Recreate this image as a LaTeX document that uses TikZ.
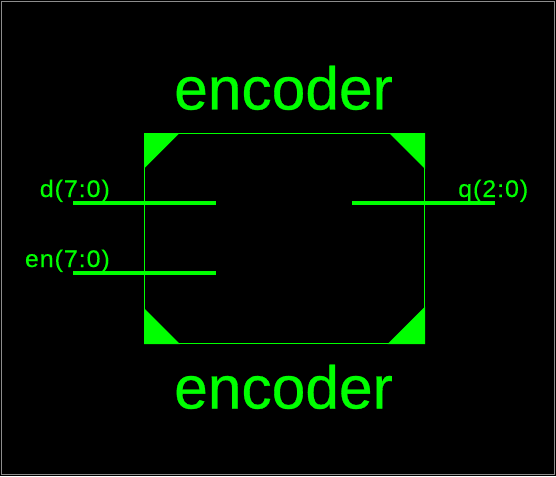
\documentclass[tikz,border=0pt]{standalone}
\usepackage{fontspec}
\setmainfont{Liberation Sans}
\newfontfamily\bigfont[FakeBold=0.5]{Liberation Sans}
\newfontfamily\pinfont[FakeStretch=1.04,LetterSpace=4,FakeBold=0.3]{Liberation Sans}
\definecolor{sym}{RGB}{0,255,0}
\definecolor{frm}{RGB}{140,140,140}
\tikzset{
  big/.style={text=sym,inner sep=0pt,font=\bigfont\fontsize{60.5}{60}\selectfont},
  pinlabel/.style={text=sym,inner sep=0pt,font=\pinfont\fontsize{24}{26}\selectfont},
  bus/.style={draw=sym,line width=4pt},
  corner/.style={fill=sym,draw=none},
  edge/.style={draw=sym,line width=1pt}
}
\begin{document}
\begin{tikzpicture}[x=1pt,y=-1pt]
\useasboundingbox (0,0) rectangle (556,476);
\fill[black] (0,0) rectangle (556,476);
\draw[frm,line width=1.3pt] (1.5,1.5) rectangle (554.5,474.5);
\coordinate (tl) at (144.5,133.5);
\coordinate (tr) at (424.5,133.5);
\coordinate (br) at (424.5,343);
\coordinate (bl) at (144.5,343);
\draw[edge] (tl) -- (tr) -- (br) -- (bl) -- cycle;
\fill[corner] (144,133) -- (179.5,133) -- (144,168.5) -- cycle;
\fill[corner] (425,133) -- (389,133) -- (425,169) -- cycle;
\fill[corner] (144,344) -- (180,344) -- (144,308) -- cycle;
\fill[corner] (425,344) -- (387.5,344) -- (425,306.5) -- cycle;
\node[big,anchor=base] (t1) at (283.5,109.5) {encoder};
\node[big,anchor=base] (t2) at (283.5,408.5) {encoder};
\coordinate (d0) at (73,203); \coordinate (d1) at (216,203);
\coordinate (e0) at (73,273); \coordinate (e1) at (216,273);
\coordinate (q0) at (352,203); \coordinate (q1) at (495,203);
\draw[bus] (d0) -- (d1);
\draw[bus] (e0) -- (e1);
\draw[bus] (q0) -- (q1);
\node[pinlabel,anchor=base east] (dl) at (110,197) {d(7:0)};
\node[pinlabel,anchor=base east] (el) at (110,267) {en(7:0)};
\node[pinlabel,anchor=base west] (ql) at (458,197) {q(2:0)};
\end{tikzpicture}
\end{document}
